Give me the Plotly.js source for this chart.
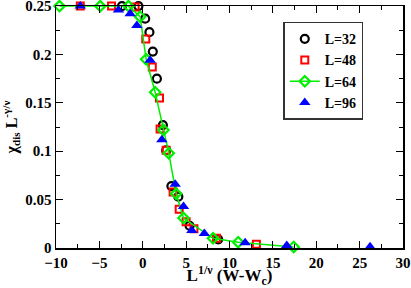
<!DOCTYPE html>
<html>
<head>
<meta charset="utf-8">
<script src="https://cdn.plot.ly/plotly-3.0.1.min.js"></script>
<style>html,body{margin:0;padding:0;background:#fff;}#chart{width:411px;height:288px;}</style>
</head>
<body>
<div id="chart"></div>
<script>
// L=32 (black circles)
var x32 = [-2.4, -0.5, 0.28, 0.77, 1.16, 1.63, 2.32, 2.7, 3.3, 4.1, 5.4, 8.7];
var y32 = [0.25, 0.25, 0.237, 0.223, 0.203, 0.175, 0.127, 0.101, 0.064, 0.053, 0.023, 0.009];
// L=48 (red squares)
var x48 = [-7.2, -3.6, -0.88, 0.35, 1.1, 1.93, 2.0, 2.7, 3.5, 4.2, 5.0, 5.9, 8.5, 13.1];
var y48 = [0.25, 0.25, 0.249, 0.216, 0.187, 0.155, 0.123, 0.101, 0.058, 0.040, 0.027, 0.020, 0.010, 0.004];
// L=64 (green diamonds, joined)
var x64 = [-9.6, -4.9, -1.65, -0.3, 0.39, 1.43, 2.39, 3.0, 3.85, 4.7, 8.1, 11.0, 17.4];
var y64 = [0.25, 0.25, 0.25, 0.239, 0.195, 0.161, 0.122, 0.098, 0.056, 0.031, 0.010, 0.006, 0.001];
// L=96 (blue triangles)
var x96 = [-7.2, -4.3, -2.8, -1.45, -0.68, 0.85, 2.2, 3.74, 4.7, 5.66, 7.1, 11.8, 16.6, 26.2];
var y96 = [0.25, 0.251, 0.246, 0.242, 0.230, 0.194, 0.112, 0.066, 0.043, 0.018, 0.015, 0.0055, 0.0025, 0.0013];

var seriesNames = ['L=32', 'L=48', 'L=64', 'L=96'];
var xTickVals = [-10, -5, 0, 5, 10, 15, 20, 25, 30];
var yTickVals = [0, 0.05, 0.1, 0.15, 0.2, 0.25];
var yTickText = ['0', '0.05', '0.1', '0.15', '0.2', '0.25'];

var serif = 'Liberation Serif, Times New Roman, serif';

var traces = [
  {x: x32, y: y32, name: seriesNames[0], type: 'scatter', mode: 'markers', cliponaxis: false,
   marker: {symbol: 'circle-open', size: 8, color: '#000000', line: {width: 2.2, color: '#000000'}}},
  {x: x48, y: y48, name: seriesNames[1], type: 'scatter', mode: 'markers', cliponaxis: false,
   marker: {symbol: 'square-open', size: 7, color: '#ff0000', line: {width: 2, color: '#ff0000'}}},
  {x: x64, y: y64, name: seriesNames[2], type: 'scatter', mode: 'lines+markers', cliponaxis: false,
   line: {color: '#00ee00', width: 1.5},
   marker: {symbol: 'diamond-open', size: 8, color: '#00ee00', line: {width: 2.2, color: '#00ee00'}}},
  {x: x96, y: y96, name: seriesNames[3], type: 'scatter', mode: 'markers', cliponaxis: false,
   marker: {symbol: 'triangle-up', size: 10, color: '#0000ff', line: {width: 0}}}
];

var axisCommon = {
  showline: true, linecolor: '#000', linewidth: 1.5, mirror: 'allticks',
  ticks: 'inside', ticklen: 7, tickwidth: 1, tickcolor: '#000',
  showgrid: false, zeroline: false, ticklabeloverflow: 'allow',
  tickfont: {family: serif, size: 15, color: '#000', weight: 'bold'}
};

var layout = {
  width: 411, height: 288,
  margin: {l: 56, r: 8, t: 6, b: 40},
  paper_bgcolor: '#fff', plot_bgcolor: '#fff',
  showlegend: true,
  legend: {x: 0.655, y: 0.935, xanchor: 'left', yanchor: 'top',
           bordercolor: '#333', borderwidth: 1.5, bgcolor: '#fff',
           font: {family: serif, size: 14, color: '#000', weight: 'bold'},
           tracegroupgap: 0, itemwidth: 30},
  xaxis: Object.assign({}, axisCommon, {
    range: [-10, 30], tickvals: xTickVals,
    minor: {dtick: 2.5, ticklen: 4, tickcolor: '#000', ticks: 'inside'},
    title: {text: 'L<sup>1/ν</sup> (W-W<sub>c</sub>)', standoff: 10,
            font: {family: serif, size: 17, color: '#000', weight: 'bold'}}
  }),
  yaxis: Object.assign({}, axisCommon, {
    range: [0, 0.2501], tickvals: yTickVals, ticktext: yTickText,
    minor: {dtick: 0.025, ticklen: 4, tickcolor: '#000', ticks: 'inside'},
    title: {text: 'χ<sub>dis</sub> L<sup>-γ/ν</sup>', standoff: 4,
            font: {family: serif, size: 16, color: '#000', weight: 'bold'}}
  })
};

Plotly.newPlot('chart', traces, layout, {staticPlot: true, displayModeBar: false});
</script>
</body>
</html>
